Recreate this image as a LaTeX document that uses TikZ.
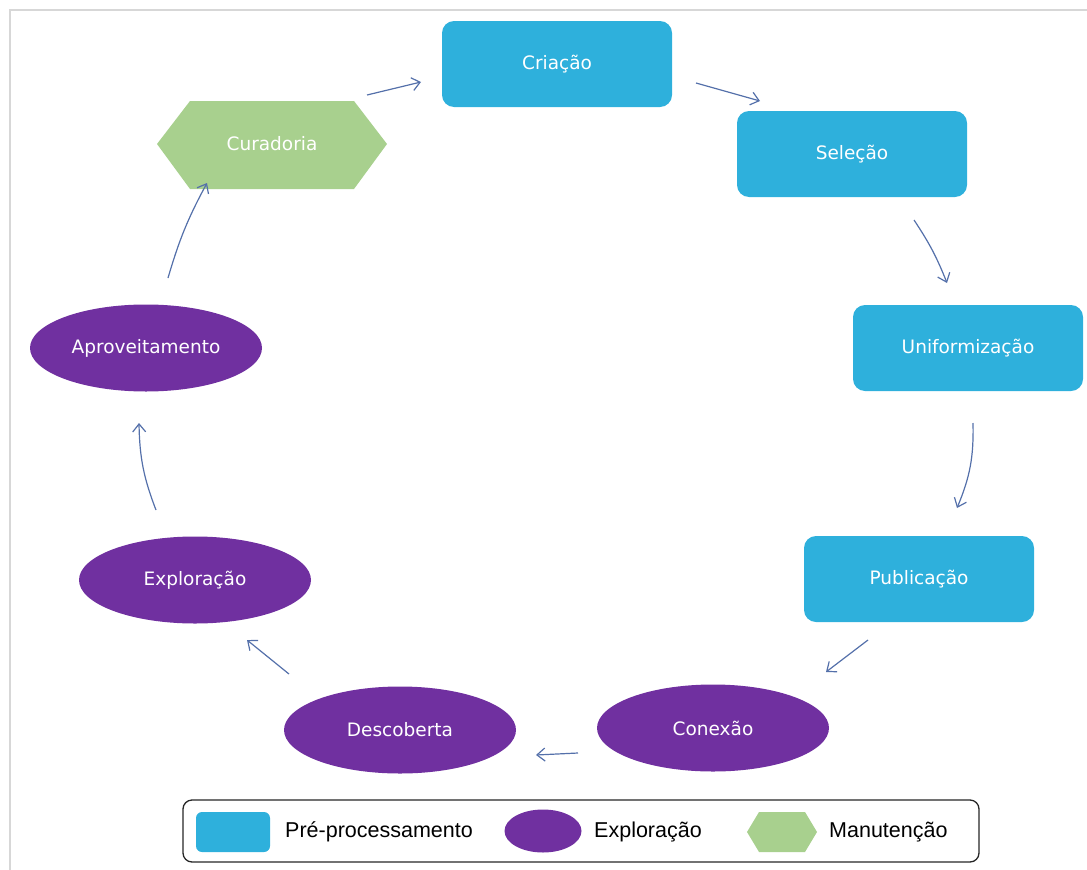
\documentclass[tikz,border=0pt]{standalone}
\usepackage{fontspec}
\setmainfont{DejaVu Sans}
\newfontfamily\legfont{Liberation Sans}
\usetikzlibrary{calc,arrows.meta,shapes.geometric}
\definecolor{cblue}{RGB}{46,176,220}
\definecolor{cpurple}{RGB}{112,48,160}
\definecolor{cgreen}{RGB}{168,208,142}
\definecolor{carrow}{RGB}{84,112,170}
\definecolor{cframe}{RGB}{215,215,215}
\tikzset{
  txt/.style={text=white,font=\fontsize{18.5}{21}\selectfont},
  pbox/.style={txt,fill=cblue,rounded corners=12pt,minimum width=230pt,minimum height=86pt,inner sep=0pt},
  pell/.style={txt,fill=cpurple,ellipse,minimum width=232pt,minimum height=87pt,inner sep=0pt},
  arr/.style={draw=carrow,line width=1.2pt,-{Straight Barb[length=8pt,width=13pt,line width=1.2pt]}},
  legtxt/.style={font=\legfont\fontsize{21.5}{24}\selectfont,anchor=west,inner sep=0pt}
}
\begin{document}
\begin{tikzpicture}[x=1pt,y=-1pt]
\useasboundingbox (0,0) rectangle (1087,870);
% frame
\draw[cframe,line width=2pt] (10,870) -- (10,10) -- (1087,10);
% hexagon Curadoria
\fill[cgreen] (157,144) -- (190,101) -- (354,101) -- (387,144) -- (354,189) -- (190,189) -- cycle;
\node[txt,minimum width=230pt,minimum height=88pt] (cur) at (272,144) {Curadoria};
% boxes
\node[pbox] (cri) at (557,64) {Criação};
\node[pbox] (sel) at (852,154) {Seleção};
\node[pbox] (uni) at (968,348) {Uniformização};
\node[pbox] (pub) at (919,579) {Publicação};
% ellipses
\node[pell] (con) at (713,728) {Conexão};
\node[pell] (des) at (400,730) {Descoberta};
\node[pell] (exp) at (195,580) {Exploração};
\node[pell] (apr) at (146,348) {Aproveitamento};
% arrows
\draw[arr] ($(cur)+(95,-49)$) -- ($(cri)+(-136,18)$);
\draw[arr] ($(cri)+(139,19)$) -- ($(sel)+(-92,-53)$);
\draw[arr] ($(sel)+(62,66)$) to[bend left=6] ($(uni)+(-21,-65)$);
\draw[arr] ($(uni)+(5,75)$) to[bend left=12] ($(pub)+(38,-71)$);
\draw[arr] ($(pub)+(-51,61)$) -- ($(con)+(113,-56)$);
\draw[arr] ($(con)+(-135,25)$) -- ($(des)+(136,25)$);
\draw[arr] ($(des)+(-111,-56)$) -- ($(exp)+(52,60)$);
\draw[arr] ($(exp)+(-39,-70)$) to[bend left=10] ($(apr)+(-7,75)$);
\draw[arr] ($(apr)+(22,-70)$) to[bend left=6] ($(cur)+(-65,39)$);
% legend
\node[draw=black!85,line width=1.3pt,rounded corners=9pt,minimum width=796pt,minimum height=62pt,inner sep=0pt] (leg) at (581,831) {};
\node[fill=cblue,rounded corners=6pt,minimum width=74pt,minimum height=40pt,inner sep=0pt] (lg1) at (233,832) {};
\node[legtxt] (lt1) at (285,832) {Pré-processamento};
\node[fill=cpurple,ellipse,minimum width=77pt,minimum height=43pt,inner sep=0pt] (lg2) at (543,831) {};
\node[legtxt] (lt2) at (594,832) {Exploração};
\fill[cgreen] (747,832) -- (759,812) -- (805,812) -- (817,832) -- (805,852) -- (759,852) -- cycle;
\coordinate (lg3) at (782,832);
\node[legtxt] (lt3) at (829,832) {Manutenção};
\end{tikzpicture}
\end{document}
